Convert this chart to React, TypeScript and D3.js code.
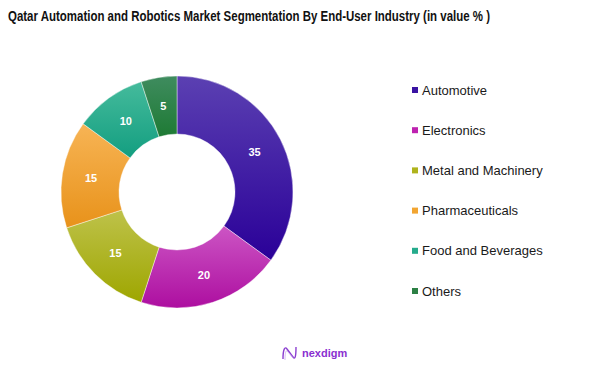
import { useEffect, useRef } from "react";
import * as d3 from "d3";

const categories = ["Automotive", "Electronics", "Metal and Machinery", "Pharmaceuticals", "Food and Beverages", "Others"];
const values = [35, 20, 15, 15, 10, 5];
// light (top) and dark (bottom) stop of each slice gradient
const topColors = ["#5b40b2", "#cc55c4", "#bec24a", "#f7b455", "#45bb9c", "#3f8c5f"];
const bottomColors = ["#2a0098", "#ad0ea0", "#9ea600", "#e8921a", "#139e80", "#1e7a34"];
const legendColors = ["#3a13a3", "#be22b0", "#afb31c", "#f2a531", "#25ab8c", "#2c8045"];

const App = () => {
  const svgRef = useRef<SVGSVGElement>(null);

  useEffect(() => {
    const svg = d3.select(svgRef.current);
    svg.selectAll("*").remove();

    const cx = 177;
    const cy = 192;
    const outer = 116;
    const inner = 58;

    const defs = svg.append("defs");
    values.forEach((_, i) => {
      const grad = defs
        .append("linearGradient")
        .attr("id", `slice-${i}`)
        .attr("x1", 0)
        .attr("y1", 0)
        .attr("x2", 0)
        .attr("y2", 1);
      grad.append("stop").attr("offset", "0%").attr("stop-color", topColors[i]);
      grad.append("stop").attr("offset", "100%").attr("stop-color", bottomColors[i]);
    });

    // title
    svg
      .append("text")
      .attr("x", 8)
      .attr("y", 21)
      .attr("font-family", "Liberation Sans, Arial, sans-serif")
      .attr("font-weight", "bold")
      .attr("font-size", 14)
      .attr("textLength", 482)
      .attr("lengthAdjust", "spacingAndGlyphs")
      .attr("fill", "#111")
      .text("Qatar Automation and Robotics Market Segmentation By End-User Industry (in value % )");

    const pie = d3.pie<number>().sort(null).value((d) => d);
    const arcs = pie(values);
    const arc = d3.arc<d3.PieArcDatum<number>>().innerRadius(inner).outerRadius(outer);
    const labelArc = d3
      .arc<d3.PieArcDatum<number>>()
      .innerRadius((inner + outer) / 2)
      .outerRadius((inner + outer) / 2);

    const g = svg.append("g").attr("transform", `translate(${cx},${cy})`);

    g.selectAll(".slice")
      .data(arcs)
      .enter()
      .append("path")
      .attr("class", "slice")
      .attr("d", arc)
      .attr("fill", (d, i) => `url(#slice-${i})`)
      .attr("stroke", "#ffffff")
      .attr("stroke-opacity", 0.6)
      .attr("stroke-width", 0.7);

    g.selectAll(".lbl")
      .data(arcs)
      .enter()
      .append("text")
      .attr("class", "lbl")
      .attr("transform", (d) => `translate(${labelArc.centroid(d)})`)
      .attr("text-anchor", "middle")
      .attr("dy", "0.35em")
      .attr("font-family", "Liberation Sans, Arial, sans-serif")
      .attr("font-weight", "bold")
      .attr("font-size", 11)
      .attr("fill", "#ffffff")
      .text((d) => d.data);

    // legend
    const y = d3.scalePoint<string>().domain(categories).range([90, 291]);
    const legend = svg
      .selectAll(".legend")
      .data(categories)
      .enter()
      .append("g")
      .attr("class", "legend")
      .attr("transform", (d) => `translate(412,${y(d)})`);

    legend
      .append("rect")
      .attr("x", 0)
      .attr("y", -3)
      .attr("width", 6)
      .attr("height", 6)
      .attr("fill", (d, i) => legendColors[i]);

    legend
      .append("text")
      .attr("x", 10)
      .attr("dy", "0.36em")
      .attr("font-family", "Liberation Sans, Arial, sans-serif")
      .attr("font-size", 13)
      .attr("fill", "#1a1a1a")
      .text((d) => d);

    // logo
    const logo = svg.append("g").attr("transform", "translate(281,345)");
    logo
      .append("path")
      .attr("d", "M2,14 C2,4 4,1 6,4 L12,12 C14,15 15,12 15,2")
      .attr("fill", "none")
      .attr("stroke", "#8b3fd0")
      .attr("stroke-width", 1.4);
    logo
      .append("path")
      .attr("d", "M4,15 C4,7 5,4 7,7 L13,14")
      .attr("fill", "none")
      .attr("stroke", "#c9a7ee")
      .attr("stroke-width", 0.8);
    logo
      .append("text")
      .attr("x", 21)
      .attr("y", 12)
      .attr("font-family", "Liberation Sans, Arial, sans-serif")
      .attr("font-size", 11)
      .attr("font-weight", "bold")
      .attr("fill", "#8a2fd0")
      .text("nexdigm");
  }, []);

  return (
    <svg
      ref={svgRef}
      width={602}
      height={369}
      style={{ position: "absolute", left: 0, top: 0, background: "#fff" }}
    ></svg>
  );
};

export default App;
